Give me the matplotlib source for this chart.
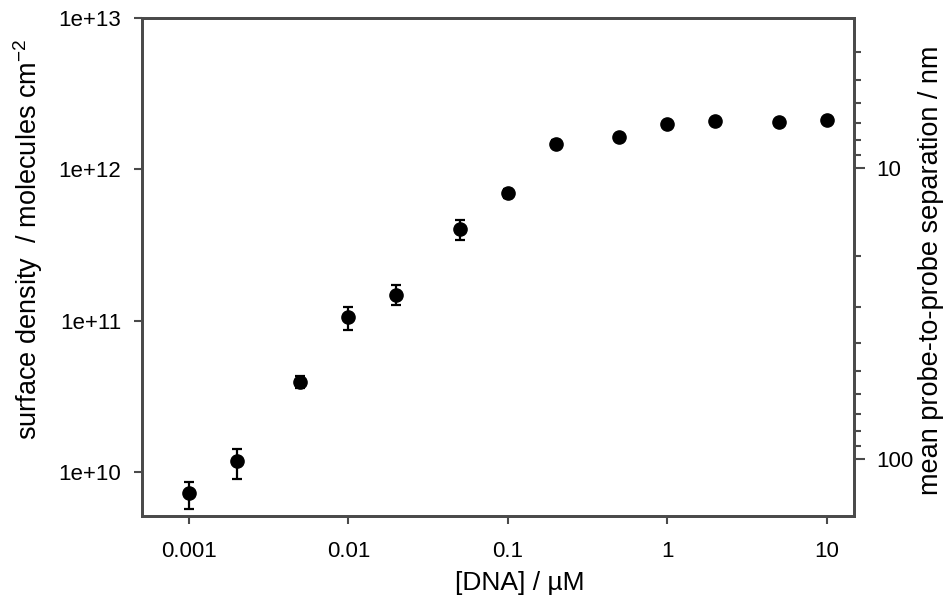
#!/usr/bin/env python3
"""
Surface density of immobilised probe DNA vs. DNA concentration,
with the mean probe-to-probe separation on the right axis.
"""

import matplotlib
matplotlib.use('Agg')
import matplotlib.pyplot as plt
from matplotlib.ticker import FuncFormatter, LogLocator, NullLocator, FixedLocator

plt.rcParams['font.family'] = ['Liberation Sans', 'DejaVu Sans']
plt.rcParams['mathtext.default'] = 'regular'

# [DNA] / uM
conc = [0.001, 0.002, 0.005, 0.01, 0.02, 0.05, 0.1, 0.2, 0.5, 1, 2, 5, 10]
# surface density / molecules cm^-2
density = [7.2e9, 1.18e10, 3.95e10, 1.06e11, 1.48e11, 4.0e11, 6.95e11,
           1.48e12, 1.63e12, 1.98e12, 2.07e12, 2.04e12, 2.13e12]
err_low = [1.5e9, 2.8e9, 0.35e10, 0.2e11, 0.22e11, 0.6e11, 0.5e11,
           0.08e12, 0.0, 0.0, 0.0, 0.0, 0.0]
err_high = [1.4e9, 2.4e9, 0.33e10, 0.16e11, 0.25e11, 0.6e11, 0.45e11,
            0.08e12, 0.0, 0.0, 0.0, 0.0, 0.0]

x_ticks = [0.001, 0.01, 0.1, 1, 10]
x_ticklabels = ['0.001', '0.01', '0.1', '1', '10']
y_ticks = [1e10, 1e11, 1e12, 1e13]
sep_ticks = [10, 100]

spine_color = '#4a4a4a'

fig = plt.figure(figsize=(9.51, 6.0), dpi=100)
ax = fig.add_axes([0.1493, 0.14, 0.7487, 0.83])

ax.errorbar(conc, density, yerr=[err_low, err_high], fmt='o', color='black',
            markersize=9.5, elinewidth=1.6, capsize=3.5, capthick=1.6, zorder=3)

ax.set_xscale('log')
ax.set_yscale('log')
ax.set_xlim(5.07e-4, 14.8)
ax.set_ylim(5.1e9, 1e13)

ax.xaxis.set_major_locator(FixedLocator(x_ticks))
ax.set_xticklabels(x_ticklabels)
ax.xaxis.set_minor_locator(NullLocator())
ax.yaxis.set_major_locator(FixedLocator(y_ticks))
ax.yaxis.set_major_formatter(FuncFormatter(lambda v, p: f'{v:.0e}'))
ax.yaxis.set_minor_locator(NullLocator())

ax.tick_params(axis='both', which='major', direction='out', length=6,
               width=1.5, color=spine_color, labelsize=16)
ax.tick_params(axis='y', pad=9)
ax.tick_params(axis='x', pad=12)

ax.set_xlabel('[DNA] / \u00b5M', fontsize=19)
ax.xaxis.set_label_coords(0.53, -0.11)
ax.set_ylabel('surface density  / molecules cm$^{-2}$', fontsize=19.5)
ax.yaxis.set_label_coords(-0.136, 0.555)

for sp in ax.spines.values():
    sp.set_color(spine_color)
    sp.set_linewidth(2)

# right axis: mean separation, inverted log scale
ax2 = ax.twinx()
ax2.set_yscale('log')
ax2.set_ylim(157, 3.05)
ax2.yaxis.set_major_locator(FixedLocator(sep_ticks))
ax2.yaxis.set_major_formatter(FuncFormatter(lambda v, p: f'{v:g}'))
ax2.yaxis.set_minor_locator(LogLocator(base=10, subs=range(2, 10)))
ax2.yaxis.set_minor_formatter(FuncFormatter(lambda v, p: ''))
ax2.tick_params(axis='y', which='major', direction='out', length=8,
                width=1.5, color=spine_color, labelsize=16, pad=8)
ax2.tick_params(axis='y', which='minor', direction='out', length=5,
                width=1.5, color=spine_color)
ax2.set_ylabel('mean probe-to-probe separation / nm', fontsize=19.5)
ax2.yaxis.set_label_coords(1.090, 0.494)
for sp in ax2.spines.values():
    sp.set_color(spine_color)
    sp.set_linewidth(2)

plt.savefig('out.png', dpi=100)
